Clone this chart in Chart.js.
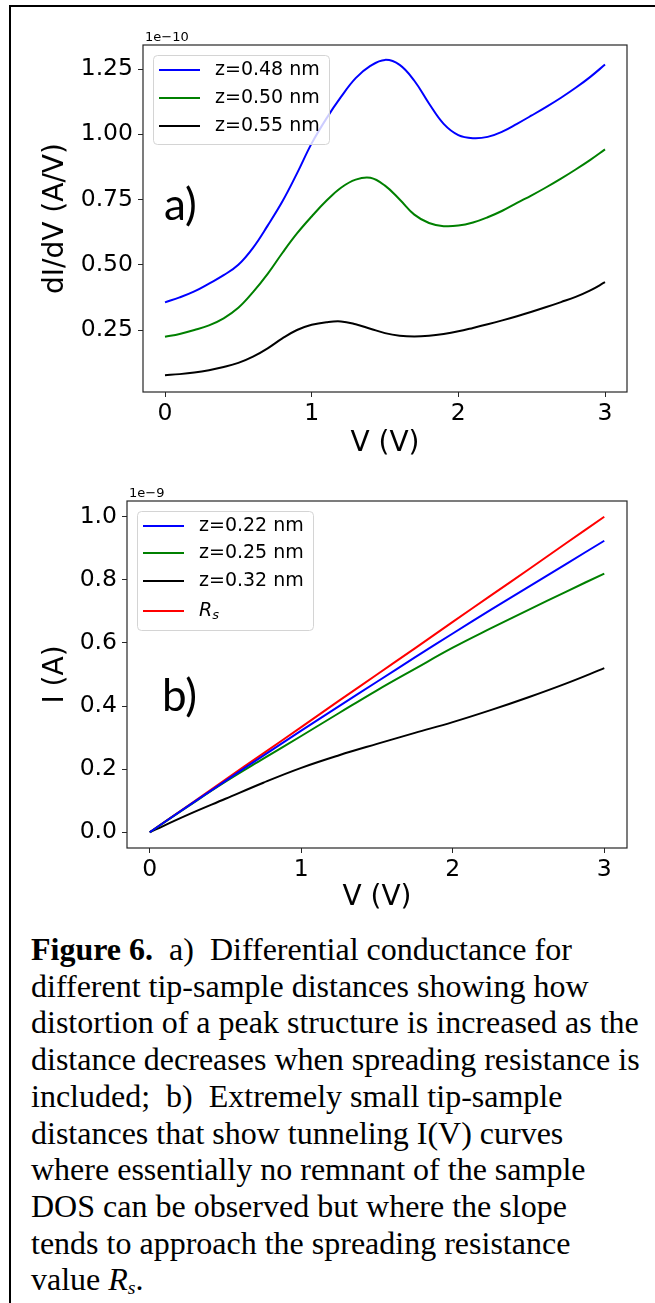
<!DOCTYPE html>
<html>
<head>
<meta charset="utf-8">
<script src="https://cdn.jsdelivr.net/npm/chart.js@4.4.1/dist/chart.umd.min.js"></script>
<style>
  body { margin: 0; background: #fff; width: 655px; height: 1303px; overflow: hidden; position: relative; }
  #box { position: absolute; left: 9px; top: 5px; width: 700px; height: 1400px; border-left: 2.5px solid #000; border-top: 2.5px solid #000; }
  #ca { position: absolute; left: 0; top: 0; }
  #cb { position: absolute; left: 0; top: 470px; }
  #cap { position: absolute; left: 31px; top: 931px; font-family: "Liberation Serif", "Times New Roman", serif; font-size: 32px; line-height: 36.7px;
         white-space: nowrap; color: #000; }
  #cap sub { font-size: 0.62em; line-height: 0; vertical-align: -0.22em; }
</style>
</head>
<body>
<div id="box"></div>
<canvas id="ca" width="655" height="470"></canvas>
<canvas id="cb" width="655" height="450"></canvas>
<div id="cap"><b>Figure 6.</b>&nbsp; a)&nbsp; Differential conductance for<br>different tip-sample distances showing how<br>distortion of a peak structure is increased as the<br>distance decreases when spreading resistance is<br>included;&nbsp; b)&nbsp; Extremely small tip-sample<br>distances that show tunneling I(V) curves<br>where essentially no remnant of the sample<br>DOS can be observed but where the slope<br>tends to approach the spreading resistance<br>value <i>R<sub>s</sub></i>.</div>
<script>
// panel a) dI/dV in units of 1e-10 A/V
var voltsA = [0,0.1,0.2,0.3,0.4,0.5,0.6,0.7,0.8,0.9,1.0,1.1,1.2,1.3,1.4,1.5,1.6,1.7,1.8,1.9,2.0,2.1,2.2,2.3,2.4,2.5,2.6,2.7,2.8,2.9,3.0];
var blueA  = [0.356,0.375,0.398,0.428,0.460,0.500,0.565,0.650,0.742,0.850,0.965,1.060,1.143,1.215,1.262,1.285,1.266,1.205,1.118,1.040,0.997,0.985,0.990,1.010,1.040,1.072,1.105,1.140,1.178,1.220,1.267];
var greenA = [0.224,0.235,0.250,0.268,0.295,0.335,0.395,0.465,0.545,0.620,0.685,0.745,0.795,0.826,0.833,0.803,0.750,0.692,0.660,0.648,0.650,0.662,0.682,0.707,0.737,0.766,0.797,0.830,0.865,0.902,0.942];
var blackA = [0.077,0.081,0.087,0.096,0.108,0.124,0.148,0.180,0.218,0.250,0.270,0.280,0.283,0.272,0.255,0.238,0.228,0.225,0.228,0.235,0.245,0.258,0.272,0.287,0.303,0.320,0.338,0.357,0.377,0.402,0.433];
var labelsA = ['z=0.48 nm', 'z=0.50 nm', 'z=0.55 nm'];
var yTicksA = [0.25, 0.50, 0.75, 1.00, 1.25];

// panel b) I(V) in units of 1e-9 A
var voltsB = [0,0.25,0.5,0.75,1.0,1.25,1.5,1.75,2.0,2.25,2.5,2.75,3.0];
var blueB  = [0,0.082,0.163,0.243,0.322,0.400,0.477,0.554,0.630,0.705,0.778,0.851,0.924];
var greenB = [0,0.081,0.160,0.233,0.305,0.378,0.450,0.518,0.585,0.646,0.705,0.763,0.820];
var blackB = [0,0.055,0.106,0.157,0.204,0.244,0.280,0.315,0.349,0.387,0.428,0.472,0.520];
var redB   = [0,0.083,0.167,0.250,0.333,0.417,0.500,0.583,0.667,0.750,0.833,0.917,1.000];
var labelsB = ['z=0.22 nm', 'z=0.25 nm', 'z=0.32 nm', 'R_s'];
var yTicksB = [0, 0.2, 0.4, 0.6, 0.8, 1.0];

var xTicks = [0, 1, 2, 3];

Chart.defaults.font.family = '"DejaVu Sans"';
Chart.defaults.color = '#000';

function pts(xs, ys) {
  return xs.map(function (x, i) { return {x: x, y: ys[i]}; });
}

function line(label, xs, ys, color) {
  return {label: label, data: pts(xs, ys), borderColor: color, borderWidth: 2,
          pointRadius: 0, fill: false, tension: 0.4};
}

// frame, offset text, panel letter and matplotlib-like legend
var decor = {
  id: 'decor',
  afterDraw: function (chart, args, o) {
    var ctx = chart.ctx, a = chart.chartArea;
    ctx.save();
    ctx.strokeStyle = '#262626';
    ctx.lineWidth = 1.2;
    ctx.strokeRect(a.left, a.top, a.right - a.left, a.bottom - a.top);

    ctx.fillStyle = '#000';
    ctx.textAlign = 'left';
    ctx.textBaseline = 'alphabetic';
    ctx.font = '13px "DejaVu Sans"';
    ctx.fillText(o.offset, a.left + 2, a.top - 4);

    ctx.font = '44px Lato';
    ctx.fillText(o.panel, o.panelX, o.panelY);

    var bx = a.left + 10, by = a.top + 10;
    ctx.beginPath();
    ctx.roundRect(bx + 0.5, by + 0.5, 176, o.legendH, 4);
    ctx.fillStyle = 'rgba(255,255,255,0.8)';
    ctx.fill();
    ctx.strokeStyle = '#d4d4d4';
    ctx.lineWidth = 1;
    ctx.stroke();

    chart.data.datasets.forEach(function (d, i) {
      var y = by + o.rows[i];
      ctx.strokeStyle = d.borderColor;
      ctx.lineWidth = 2;
      ctx.beginPath();
      ctx.moveTo(bx + 6, y);
      ctx.lineTo(bx + 47, y);
      ctx.stroke();
      ctx.fillStyle = '#000';
      ctx.textBaseline = 'middle';
      var parts = d.label.split('_');
      if (parts.length === 1) {
        ctx.font = '19px "DejaVu Sans"';
        ctx.fillText(d.label, bx + 62, y);
      } else {
        ctx.font = 'italic 19px "DejaVu Sans"';
        ctx.fillText(parts[0], bx + 62, y);
        var w = ctx.measureText(parts[0]).width;
        ctx.font = 'italic 13px "DejaVu Sans"';
        ctx.fillText(parts[1], bx + 62 + w, y + 5);
      }
    });
    ctx.restore();
  }
};

function scales(cfg) {
  return {
    x: {
      type: 'linear', min: -0.15, max: 3.15,
      afterBuildTicks: function (s) { s.ticks = xTicks.map(function (v) { return {value: v}; }); },
      afterFit: function (s) { s.height = cfg.xh; },
      ticks: {font: {size: 23.5}, padding: 3, maxRotation: 0, callback: function (v) { return String(v); }},
      grid: {drawOnChartArea: false, tickLength: 5, tickColor: '#262626', tickWidth: 1},
      border: {display: false},
      title: {display: true, text: 'V (V)', font: {size: 28}, padding: {top: 0, bottom: cfg.xtp}}
    },
    y: {
      type: 'linear', min: cfg.ymin, max: cfg.ymax,
      afterBuildTicks: function (s) { s.ticks = cfg.ticks.map(function (v) { return {value: v}; }); },
      afterFit: function (s) { s.width = cfg.yw; },
      ticks: {font: {size: 23.5}, padding: 5, callback: function (v) { return v.toFixed(cfg.dec); }},
      grid: {drawOnChartArea: false, tickLength: 5, tickColor: '#262626', tickWidth: 1},
      border: {display: false},
      title: {display: true, text: cfg.ytitle, font: {size: 28}, padding: {top: 39, bottom: 0}}
    }
  };
}

new Chart(document.getElementById('ca').getContext('2d'), {
  type: 'line',
  data: {datasets: [
    line(labelsA[0], voltsA, blueA, '#0000ff'),
    line(labelsA[1], voltsA, greenA, '#008000'),
    line(labelsA[2], voltsA, blackA, '#000000')
  ]},
  options: {
    responsive: false, animation: false, devicePixelRatio: 1,
    layout: {padding: {left: 0, right: 28, top: 45, bottom: 0}},
    plugins: {
      legend: {display: false}, tooltip: {enabled: false},
      decor: {offset: '1e\u221210', panel: 'a)', panelX: 164, panelY: 220, legendH: 89, rows: [15, 43, 71]}
    },
    scales: scales({xh: 78, xtp: 9, yw: 143, ymin: 0.0125, ymax: 1.342, ticks: yTicksA, dec: 2, ytitle: 'dI/dV (A/V)'})
  },
  plugins: [decor]
});

new Chart(document.getElementById('cb').getContext('2d'), {
  type: 'line',
  data: {datasets: [
    line(labelsB[0], voltsB, blueB, '#0000ff'),
    line(labelsB[1], voltsB, greenB, '#008000'),
    line(labelsB[2], voltsB, blackB, '#000000'),
    line(labelsB[3], voltsB, redB, '#ff0000')
  ]},
  options: {
    responsive: false, animation: false, devicePixelRatio: 1,
    layout: {padding: {left: 0, right: 28, top: 31, bottom: 0}},
    plugins: {
      legend: {display: false}, tooltip: {enabled: false},
      decor: {offset: '1e\u22129', panel: 'b)', panelX: 162, panelY: 241, legendH: 119, rows: [15, 42, 70, 100]}
    },
    scales: scales({xh: 72, xtp: 5, yw: 127, ymin: -0.05, ymax: 1.05, ticks: yTicksB, dec: 1, ytitle: 'I (A)'})
  },
  plugins: [decor]
});
</script>
</body>
</html>
